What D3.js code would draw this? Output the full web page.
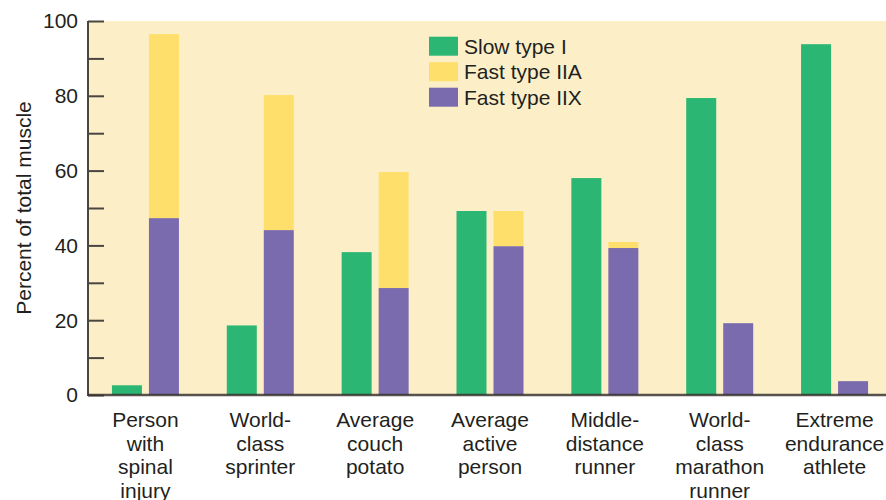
<!DOCTYPE html>
<html><head><meta charset="utf-8">
<script src="https://cdn.jsdelivr.net/npm/d3@7"></script>
<style>body{margin:0;background:#fff}svg{display:block}text{font-family:"Liberation Sans",Arial,Helvetica,sans-serif;fill:#231f20}</style>
</head><body><svg id="c" width="886" height="500"></svg>
<script>
const categories = [
  ["Person","with","spinal","injury"],
  ["World-","class","sprinter"],
  ["Average","couch","potato"],
  ["Average","active","person"],
  ["Middle-","distance","runner"],
  ["World-","class","marathon","runner"],
  ["Extreme","endurance","athlete"]
];
const slowTypeI  = [2.6, 18.6, 38.2, 49.2, 58.0, 79.4, 93.8];
const fastTypeIIA = [49.2, 36.1, 31.0, 9.4, 1.6, 0, 0];
const fastTypeIIX = [47.3, 44.1, 28.6, 39.8, 39.3, 19.2, 3.7];
const yTicks = [0, 20, 40, 60, 80, 100];
const yMinorTicks = [0,10,20,30,40,50,60,70,80,90,100];
const seriesNames = ["Slow type I", "Fast type IIA", "Fast type IIX"];
const colors = {"Slow type I":"#2bb673","Fast type IIA":"#ffdf6b","Fast type IIX":"#7a6aae"};

(function(){
const svg = d3.select("#c");
const pL = 88, pT = 21, pB = 395, pR = 886;
const x = d3.scaleBand().domain(d3.range(categories.length)).range([pL, 892]);
const y = d3.scaleLinear().domain([0, 100]).range([pB, pT]);

svg.append("rect").attr("x", pL).attr("y", pT).attr("width", pR-pL).attr("height", pB-pT).attr("fill", "#fcefc8");

const barW = 30, gap = 3.5;
const g = svg.append("g");
categories.forEach((c, i) => {
  const cx = x(i) + x.bandwidth()/2;
  g.append("rect").attr("x", cx - gap - barW).attr("width", barW)
    .attr("y", y(slowTypeI[i])).attr("height", y(0)-y(slowTypeI[i])).attr("fill", colors["Slow type I"]);
  g.append("rect").attr("x", cx + gap).attr("width", barW)
    .attr("y", y(fastTypeIIX[i])).attr("height", y(0)-y(fastTypeIIX[i])).attr("fill", colors["Fast type IIX"]);
  if (fastTypeIIA[i] > 0) {
    const t = fastTypeIIX[i] + fastTypeIIA[i];
    g.append("rect").attr("x", cx + gap).attr("width", barW)
      .attr("y", y(t)).attr("height", y(fastTypeIIX[i]) - y(t)).attr("fill", colors["Fast type IIA"]);
  }
});

// y axis
const yAxis = d3.axisRight(y).tickValues(yMinorTicks).tickSize(16).tickFormat("");
const ya = svg.append("g").attr("transform", `translate(${pL},0)`).call(yAxis);
ya.select(".domain").remove();
ya.selectAll(".tick line").attr("stroke", "#4a4540").attr("stroke-width", 2);
svg.append("line").attr("x1", pL).attr("x2", pL).attr("y1", pT).attr("y2", pB+1).attr("stroke", "#4a4540").attr("stroke-width", 2);
svg.append("g").selectAll("text").data(yTicks).join("text")
  .attr("x", 78).attr("y", d => y(d)).attr("dy", "0.35em").attr("text-anchor", "end")
  .style("font-size", "21px").text(d => d);

// x axis line
svg.append("line").attr("x1", pL).attr("x2", pR).attr("y1", pB).attr("y2", pB)
  .attr("stroke", "#3a3530").attr("stroke-opacity", 0.85).attr("stroke-width", 2.5);

// category labels
categories.forEach((lines, i) => {
  const cx = x(i) + x.bandwidth()/2;
  const t = svg.append("text").attr("text-anchor", "middle").style("font-size", "21px");
  lines.forEach((l, j) => t.append("tspan").attr("x", cx).attr("y", 427 + j*23.5).text(l));
});

// y title
svg.append("text").attr("transform", `translate(31,${(pT+pB)/2}) rotate(-90)`)
  .attr("text-anchor", "middle").style("font-size", "21px").text("Percent of total muscle");

// legend
const lg = svg.append("g");
seriesNames.forEach((s, i) => {
  lg.append("rect").attr("x", 429).attr("y", 36.7 + i*25.5).attr("width", 29).attr("height", 19).attr("fill", colors[s]);
  lg.append("text").attr("x", 464).attr("y", 46.5 + i*25.5).attr("dy", "0.35em").style("font-size", "21px").text(s);
});
})();
</script></body></html>
